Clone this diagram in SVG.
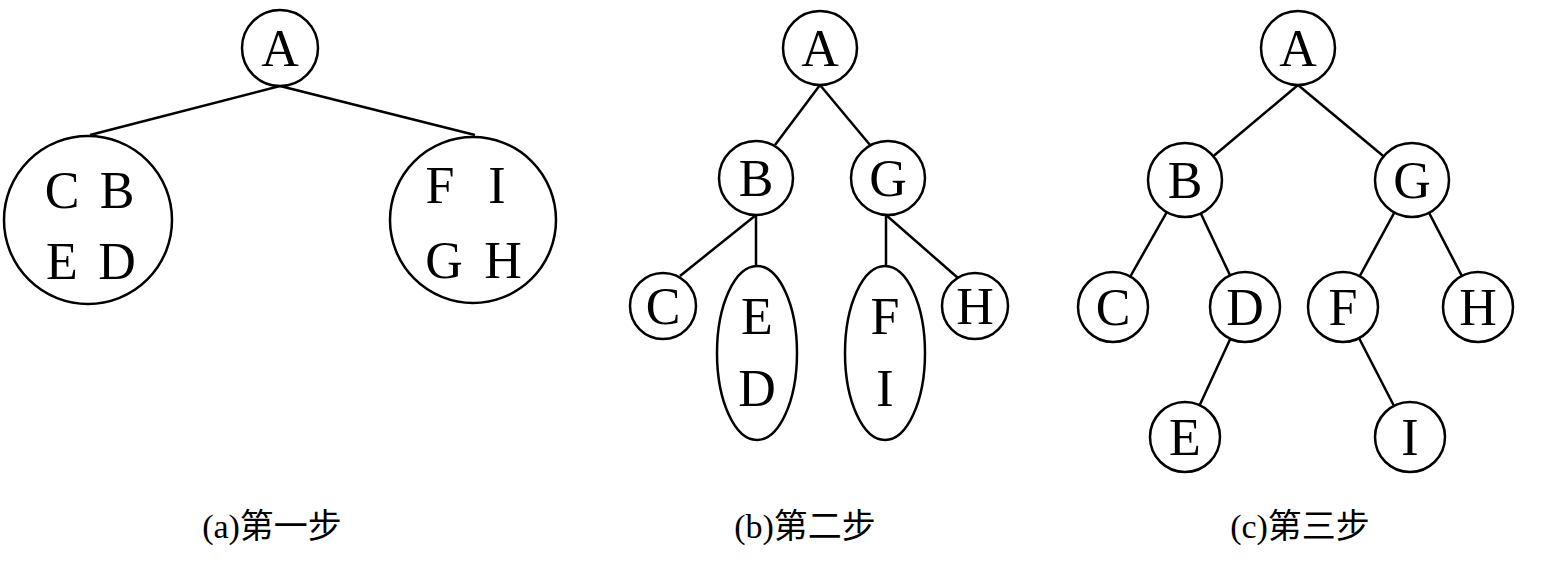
<svg xmlns="http://www.w3.org/2000/svg" width="1542" height="573" viewBox="0 0 1542 573">
<style>
.n{fill:#fff;stroke:#000;stroke-width:2.5}
.e line{stroke:#000;stroke-width:2.5}
text{font-family:"Liberation Serif","Noto Sans CJK SC",serif;font-size:52px;text-anchor:middle;fill:#000}
.cap{font-size:34px}
</style>
<rect width="1542" height="573" fill="#fff"/>
<g class="e" id="connectors">
<line x1="280" y1="86" x2="90" y2="135"/>
<line x1="280" y1="86" x2="475" y2="135"/>
<line x1="820" y1="85" x2="775" y2="145"/>
<line x1="820" y1="85" x2="870" y2="145"/>
<line x1="756" y1="215" x2="680" y2="276"/>
<line x1="756" y1="215" x2="756" y2="270"/>
<line x1="886" y1="215" x2="886" y2="270"/>
<line x1="886" y1="215" x2="958" y2="278"/>
<line x1="1298" y1="85" x2="1185" y2="180"/>
<line x1="1298" y1="85" x2="1412" y2="180"/>
<line x1="1185" y1="180" x2="1113" y2="307"/>
<line x1="1185" y1="180" x2="1245" y2="307"/>
<line x1="1412" y1="180" x2="1343" y2="307"/>
<line x1="1412" y1="180" x2="1478" y2="307"/>
<line x1="1245" y1="307" x2="1185" y2="437"/>
<line x1="1343" y1="307" x2="1410" y2="437"/>
</g>
<g id="a_A"><circle class="n" cx="280" cy="48" r="38"/><text x="280" y="66">A</text></g>
<g id="a_L"><circle class="n" cx="88" cy="220" r="84"/><text x="62" y="208">C</text><text x="117" y="208">B</text><text x="62" y="279">E</text><text x="117" y="279">D</text></g>
<g id="a_R"><circle class="n" cx="473" cy="220" r="83"/><text x="440" y="203">F</text><text x="497" y="203">I</text><text x="444" y="278">G</text><text x="503" y="278">H</text></g>
<text class="cap" x="272" y="538">(a)第一步</text>

<g id="b_A"><circle class="n" cx="820" cy="48" r="37"/><text x="820" y="66">A</text></g>
<g id="b_B"><circle class="n" cx="756" cy="178" r="37"/><text x="756" y="196">B</text></g>
<g id="b_G"><circle class="n" cx="888" cy="178" r="37"/><text x="888" y="196">G</text></g>
<g id="b_C"><circle class="n" cx="663" cy="306" r="33"/><text x="663" y="324">C</text></g>
<g id="b_ED"><ellipse class="n" cx="757" cy="353" rx="40" ry="87"/><text x="757" y="334">E</text><text x="757" y="406">D</text></g>
<g id="b_FI"><ellipse class="n" cx="885" cy="353" rx="40" ry="87"/><text x="885" y="334">F</text><text x="885" y="406">I</text></g>
<g id="b_H"><circle class="n" cx="975" cy="306" r="33"/><text x="975" y="324">H</text></g>
<text class="cap" x="805" y="538">(b)第二步</text>

<g id="c_A"><circle class="n" cx="1298" cy="48" r="37"/><text x="1298" y="66">A</text></g>
<g id="c_B"><circle class="n" cx="1185" cy="180" r="37"/><text x="1185" y="198">B</text></g>
<g id="c_G"><circle class="n" cx="1412" cy="180" r="37"/><text x="1412" y="198">G</text></g>
<g id="c_C"><circle class="n" cx="1113" cy="307" r="35"/><text x="1113" y="325">C</text></g>
<g id="c_D"><circle class="n" cx="1245" cy="307" r="35"/><text x="1245" y="325">D</text></g>
<g id="c_F"><circle class="n" cx="1343" cy="307" r="35"/><text x="1343" y="325">F</text></g>
<g id="c_H"><circle class="n" cx="1478" cy="307" r="35"/><text x="1478" y="325">H</text></g>
<g id="c_E"><circle class="n" cx="1185" cy="437" r="35"/><text x="1185" y="455">E</text></g>
<g id="c_I"><circle class="n" cx="1410" cy="437" r="35"/><text x="1410" y="455">I</text></g>
<text class="cap" x="1300" y="538">(c)第三步</text>
</svg>
